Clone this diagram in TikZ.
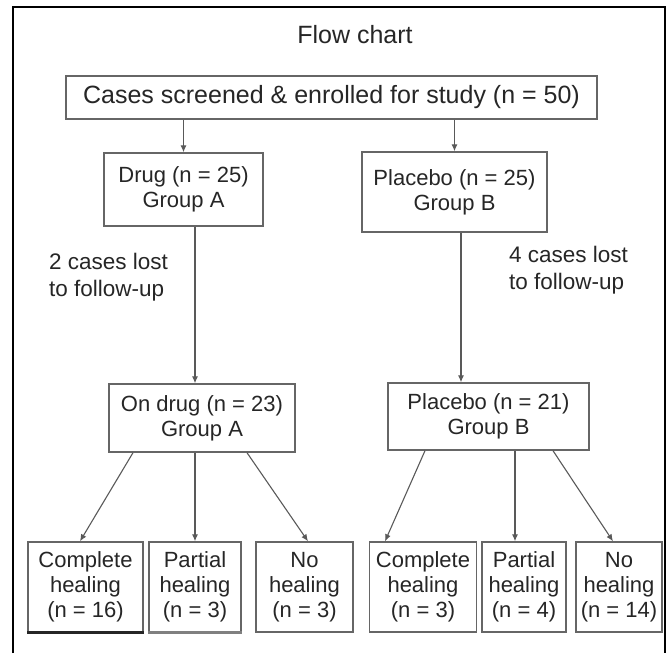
\documentclass[tikz,border=0pt]{standalone}
\usepackage{fontspec}
\setmainfont{Liberation Sans}
\usepackage{tikz}
\usetikzlibrary{arrows.meta, positioning}
\tikzset{
  studybox/.style={
    draw=black!60, line width=1.4pt, align=center, fill=white,
    text=black!85, inner sep=0pt,
    font=\fontsize{22}{25}\selectfont
  },
  studyarrow/.style={
    -{Latex[length=7pt, width=6pt]}, line width=1.1pt, color=black!65
  },
  studylabel/.style={
    align=left, text=black!85, inner sep=0pt,
    font=\fontsize{22.5}{27}\selectfont
  },
}

\begin{document}
\begin{tikzpicture}[x=1pt, y=-1pt]
  \useasboundingbox (0,0) rectangle (669,653);
  % Frame
  \draw[line width=2pt] (12.7,653) -- (12.7,7) -- (665,7) -- (665,653);

  % Title
  \node[font=\fontsize{25}{28}\selectfont, text=black!85] (title) at (355,35) {Flow chart};

  % Top
  \node[studybox, font=\fontsize{25}{28}\selectfont,
    minimum width=531pt, minimum height=43pt] (screened) at (331.5,97.5)
    {Cases screened \& enrolled for study (n = 50)};

  % Groups
  \node[studybox, minimum width=159pt, minimum height=73pt] (drug) at (183.5,189.5)
    {Drug (n = 25)\\Group A};
  \node[studybox, minimum width=185pt, minimum height=80pt] (placebo) at (454.5,192)
    {Placebo (n = 25)\\Group B};

  % Lost to follow-up
  \node[studylabel, anchor=base west] (lostA) at (49,296) {2 cases lost\\to follow-up};
  \node[studylabel, anchor=base west] (lostB) at (509,289) {4 cases lost\\to follow-up};

  % After follow-up
  \node[studybox, minimum width=186pt, minimum height=68pt] (ondrug) at (202,418)
    {On drug (n = 23)\\Group A};
  \node[studybox, minimum width=201pt, minimum height=67pt] (placeboB) at (488.5,416.5)
    {Placebo (n = 21)\\Group B};

  % Outcomes
  \node[studybox, minimum width=115pt, minimum height=90pt] (completeA) at (85.5,587)
    {Complete\\healing\\(n = 16)};
  \node[studybox, minimum width=92pt, minimum height=90pt] (partialA) at (195,587)
    {Partial\\healing\\(n = 3)};
  \node[studybox, minimum width=97pt, minimum height=90pt] (noneA) at (304.5,587)
    {No\\healing\\(n = 3)};
  \node[studybox, minimum width=107pt, minimum height=90pt] (completeB) at (423,587)
    {Complete\\healing\\(n = 3)};
  \node[studybox, minimum width=84pt, minimum height=90pt] (partialB) at (524,587)
    {Partial\\healing\\(n = 4)};
  \node[studybox, minimum width=86pt, minimum height=90pt] (noneB) at (619,587)
    {No\\healing\\(n = 14)};
  % darker bottom edges
  \draw[line width=3pt, black!85] (completeA.south west) -- (completeA.south east);
  \draw[line width=3pt, black!50] (partialA.south west) -- (partialA.south east);

  % Arrows
  \draw[studyarrow] (drug.north |- screened.south) -- (drug.north);
  \draw[studyarrow] (placebo.north |- screened.south) -- (placebo.north);
  \draw[studyarrow] ([xshift=11.5pt]drug.south) -- ([xshift=-7pt]ondrug.north);
  \draw[studyarrow] ([xshift=6.5pt]placebo.south) -- ([xshift=-27.5pt]placeboB.north);

  \draw[studyarrow] ([xshift=-69pt]ondrug.south) -- ([xshift=-5.5pt]completeA.north);
  \draw[studyarrow] ([xshift=-7pt]ondrug.south) -- (partialA.north);
  \draw[studyarrow] ([xshift=45pt]ondrug.south) -- ([xshift=3.5pt]noneA.north);
  \draw[studyarrow] ([xshift=-63.5pt]placeboB.south) -- ([xshift=-38pt]completeB.north);
  \draw[studyarrow] ([xshift=26.5pt]placeboB.south) -- ([xshift=-9pt]partialB.north);
  \draw[studyarrow] ([xshift=64.5pt]placeboB.south) -- ([xshift=-6pt]noneB.north);
\end{tikzpicture}
\end{document}
